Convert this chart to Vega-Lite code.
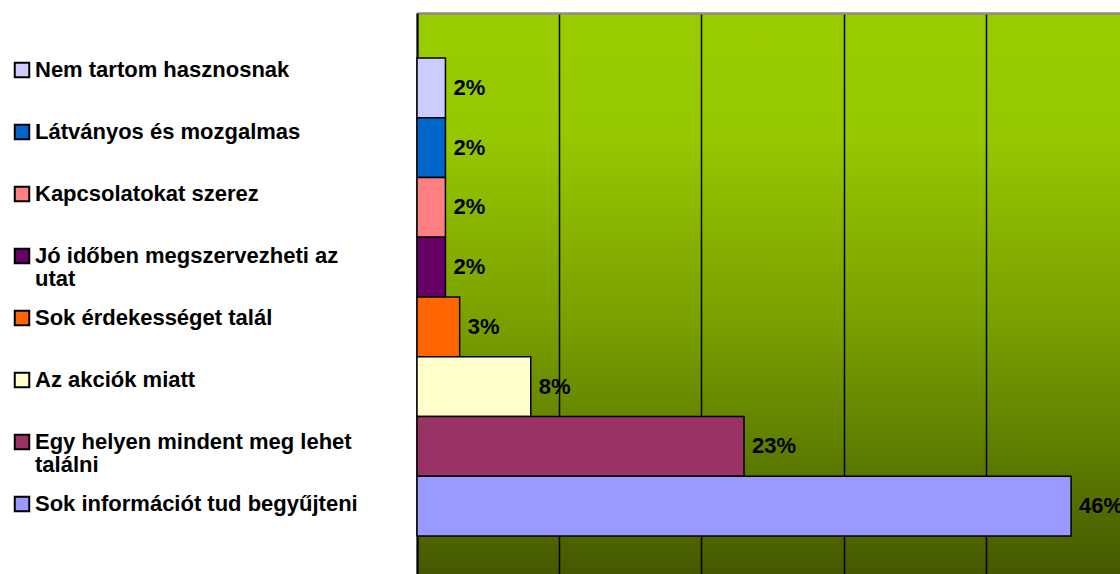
{
  "$schema": "https://vega.github.io/schema/vega-lite/v6.json",
  "autosize": {"type": "none"},
  "padding": {"left": 417, "top": 13, "right": 0, "bottom": 0},
  "width": 703,
  "height": 561,
  "background": "white",
  "config": {
    "font": "Liberation Sans",
    "view": {
      "stroke": null,
      "fill": {
        "gradient": "linear",
        "x1": 0, "y1": 0, "x2": 0, "y2": 1,
        "stops": [
          {"offset": 0, "color": "#99CC00"},
          {"offset": 0.22, "color": "#96C800"},
          {"offset": 0.55, "color": "#7A9F00"},
          {"offset": 0.8, "color": "#5C7B00"},
          {"offset": 1, "color": "#455800"}
        ]
      }
    }
  },
  "data": {
    "values": [
      {"reason": "Nem tartom hasznosnak", "pct": 0.02},
      {"reason": "Látványos és mozgalmas", "pct": 0.02},
      {"reason": "Kapcsolatokat szerez", "pct": 0.02},
      {"reason": "Jó időben megszervezheti az utat", "pct": 0.02},
      {"reason": "Sok érdekességet talál", "pct": 0.03},
      {"reason": "Az akciók miatt", "pct": 0.08},
      {"reason": "Egy helyen mindent meg lehet találni", "pct": 0.23},
      {"reason": "Sok információt tud begyűjteni", "pct": 0.46}
    ]
  },
  "encoding": {
    "y": {
      "field": "reason",
      "type": "nominal",
      "sort": ["Nem tartom hasznosnak", "Látványos és mozgalmas", "Kapcsolatokat szerez", "Jó időben megszervezheti az utat", "Sok érdekességet talál", "Az akciók miatt", "Egy helyen mindent meg lehet találni", "Sok információt tud begyűjteni"],
      "scale": {"paddingInner": 0, "paddingOuter": 0.6946, "align": 0.542},
      "axis": {"title": null, "labels": false, "ticks": false, "grid": false, "domainColor": "black", "domainWidth": 2}
    },
    "x": {
      "field": "pct",
      "type": "quantitative",
      "scale": {"domain": [0, 0.4944], "nice": false},
      "axis": {"orient": "top", "title": null, "labels": false, "ticks": false, "values": [0, 0.1, 0.2, 0.3, 0.4], "grid": true, "gridColor": "black", "gridWidth": 1.5, "gridOpacity": 1, "domainColor": "#8c8c8c", "domainWidth": 2.5}
    }
  },
  "layer": [
    {
      "mark": {"type": "bar", "stroke": "black", "strokeWidth": 1.5},
      "encoding": {
        "color": {
          "field": "reason",
          "type": "nominal",
          "scale": {
            "domain": ["Nem tartom hasznosnak", "Látványos és mozgalmas", "Kapcsolatokat szerez", "Jó időben megszervezheti az utat", "Sok érdekességet talál", "Az akciók miatt", "Egy helyen mindent meg lehet találni", "Sok információt tud begyűjteni"],
            "range": ["#CCCCFF", "#0066CC", "#FF8080", "#660066", "#FF6600", "#FFFFCC", "#993366", "#9999FF"]
          },
          "legend": {
            "orient": "none",
            "legendX": -406,
            "legendY": 46,
            "title": null,
            "padding": 0,
            "symbolType": "square",
            "symbolSize": 210,
            "symbolStrokeColor": "black",
            "symbolStrokeWidth": 2,
            "symbolOpacity": 1,
            "labelFont": "Liberation Sans",
            "labelFontSize": 22,
            "labelFontWeight": "bold",
            "labelColor": "black",
            "labelOffset": 2,
            "labelLimit": 500,
            "labelBaseline": "top",
            "gridAlign": "all",
            "rowPadding": 16,
            "labelExpr": "datum.label == 'Jó időben megszervezheti az utat' ? ['Jó időben megszervezheti az', 'utat'] : datum.label == 'Egy helyen mindent meg lehet találni' ? ['Egy helyen mindent meg lehet', 'találni'] : datum.label",
            "encode": {"labels": {"update": {"dy": {"value": -10}, "lineHeight": {"value": 23}}}}
          }
        }
      }
    },
    {
      "mark": {"type": "text", "align": "left", "baseline": "middle", "dx": 8, "fontSize": 22, "fontWeight": "bold", "color": "black"},
      "encoding": {
        "text": {"field": "pct", "type": "quantitative", "format": ".0%"}
      }
    }
  ]
}
